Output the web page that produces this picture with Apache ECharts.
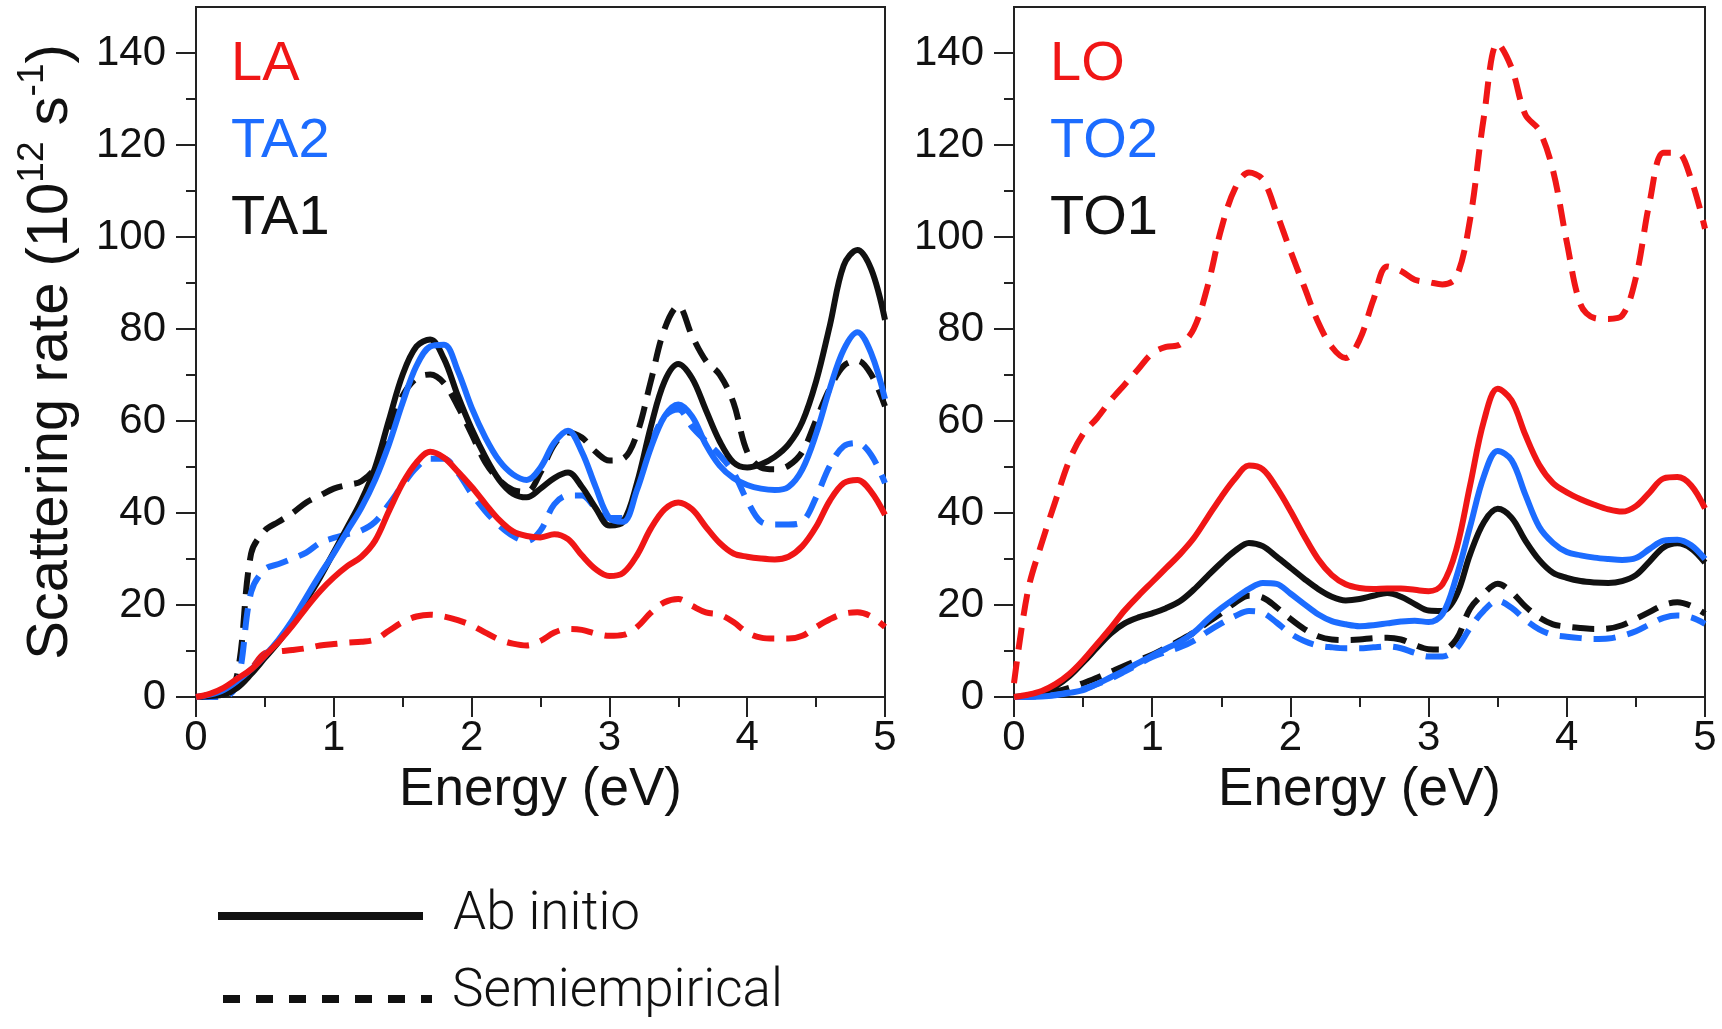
<!DOCTYPE html>
<html>
<head>
<meta charset="utf-8">
<title>Scattering rate</title>
<script src="https://cdn.jsdelivr.net/npm/echarts@6/dist/echarts.min.js"></script>
<style>
    html, body { margin: 0; padding: 0; background: #fff; }
    #echart_main { width: 1722px; height: 1029px; }
</style>
</head>
<body>
<div id="echart_main"></div>
<script>
// energy grid (eV)
var energy = [0, 0.1, 0.2, 0.3, 0.4, 0.5, 0.6, 0.7, 0.8, 0.9,
    1.0, 1.1, 1.2, 1.3, 1.4, 1.5, 1.6, 1.7, 1.8, 1.9,
    2.0, 2.1, 2.2, 2.3, 2.4, 2.5, 2.6, 2.7, 2.8, 2.9,
    3.0, 3.1, 3.2, 3.3, 3.4, 3.5, 3.6, 3.7, 3.8, 3.9,
    4.0, 4.1, 4.2, 4.3, 4.4, 4.5, 4.6, 4.7, 4.8, 4.9, 5.0];

var xTicks = [0, 1, 2, 3, 4, 5];
var yTicks = [0, 20, 40, 60, 80, 100, 120, 140];
var yMinor = [10, 30, 50, 70, 90, 110, 130];

// acoustic branches, ab initio (solid)
var laAb = [0, 0.7, 2, 4, 6, 9, 12, 15.5, 19.4, 23,
    26, 28.5, 30.5, 34, 40.4, 46.5, 51, 53.3, 52, 49,
    45.7, 42, 38.5, 36, 35, 34.7, 35.4, 34.3, 30.8, 27.8,
    26.3, 27, 30.8, 36.6, 40.8, 42.3, 40.8, 37, 33.5, 31.2,
    30.5, 30.1, 29.9, 30.5, 32.8, 37, 42.7, 46.5, 47.2, 44.6, 39.6];
var ta2Ab = [0, 0.5, 1.5, 3.5, 6, 9, 12.5, 16.7, 21.7, 26.6,
    31.2, 36.2, 41.1, 47.2, 54.9, 64, 72, 76.2, 76.6, 70.9,
    62.9, 56.4, 51.4, 48.4, 47.2, 49.9, 55.3, 57.9, 53.3, 45.7,
    38.9, 38.1, 45, 54.1, 61, 63.6, 61, 54.9, 50.3, 47.6,
    46.1, 45.3, 45, 45.7, 49.5, 57.2, 67.1, 75.5, 79.3, 74.7, 64.8];
var ta1Ab = [0, 0.2, 0.5, 2, 5, 8.5, 12, 16, 21, 26,
    31.5, 37, 42.7, 49.9, 60.2, 70.1, 76.2, 77.7, 73.5, 65.5,
    58.3, 52.2, 47.2, 44.2, 43.4, 45.3, 47.6, 48.8, 45.7, 41.1,
    37.3, 38.1, 46.5, 58.7, 68.6, 72.4, 69.3, 62.4, 55.6, 51,
    49.9, 50.6, 52.2, 54.9, 59.8, 68.6, 80.8, 93.8, 97.2, 93, 82];

// acoustic branches, semiempirical (dashed)
var laSe = [0, 0.5, 1.5, 3, 6, 9.5, 9.9, 10.2, 10.6, 11.2,
    11.5, 11.8, 12, 12.5, 14.4, 16.3, 17.5, 17.9, 17.5, 16.7,
    15.6, 14, 12.5, 11.6, 11.2, 12.2, 14, 14.8, 14.6, 13.8,
    13.3, 13.5, 15.2, 18.3, 20.6, 21.3, 19.8, 18.4, 17.9, 16.3,
    14, 12.9, 12.7, 12.7, 13.3, 15.2, 16.9, 18.1, 18.4, 17.5, 15.2];
var ta2Se = [0, 0, 0, 3, 22.8, 27.8, 28.9, 30.1, 31.4, 33.5,
    34.6, 35.4, 36.2, 38.1, 41.9, 46.1, 49.9, 51.8, 51.8, 48.8,
    44.2, 40.4, 37.3, 35, 33.9, 36.2, 41.9, 43.8, 43.8, 41.1,
    38.9, 38.9, 45.7, 54.9, 61, 62.5, 58.7, 55.6, 52.6, 48.8,
    42.7, 38.1, 37.5, 37.5, 38.1, 43.4, 50.3, 54.5, 55.2, 52.6, 46.5];
var ta1Se = [0, 0, 0, 5, 31.2, 36.2, 38.1, 40, 42.3, 43.8,
    45.3, 46.1, 46.9, 49.9, 57.9, 65.5, 69.3, 70.1, 68.2, 63.2,
    57.2, 51, 47.2, 45, 44.6, 48.8, 54.9, 57.5, 56.4, 53.3,
    51.4, 51.8, 57.2, 68.6, 80, 85, 78.5, 73.1, 70.1, 64,
    53.3, 49.9, 49.5, 50.3, 53.3, 60.2, 67.1, 72, 73.1, 70.1, 63.2];

// optical branches, ab initio (solid)
var loAb = [0, 0.5, 1.3, 2.8, 5, 8, 11.5, 15, 18.8, 22,
    25, 28, 31, 34.5, 39, 43.5, 47.5, 50.3, 49.5, 45.5,
    40.5, 35, 30, 26.5, 24.5, 23.7, 23.5, 23.6, 23.6, 23.3,
    23, 24.5, 32, 46, 60, 67, 64.5, 57, 50.5, 46.5,
    44.5, 43, 41.8, 40.8, 40.3, 41.5, 44.5, 47.5, 47.8, 46, 41];
var to2Ab = [0, 0, 0.1, 0.4, 0.9, 1.5, 2.8, 4.3, 5.8, 7.4,
    9, 10.5, 12, 14, 16.8, 19.3, 21.5, 23.5, 24.8, 24.6,
    22.5, 20.2, 18, 16.5, 15.8, 15.4, 15.6, 16, 16.4, 16.6,
    16.3, 18, 26, 37, 48, 53.5, 51.5, 44, 37, 33.5,
    31.5, 30.8, 30.3, 30, 29.8, 30.2, 32.2, 34, 34.2, 33, 30];
var to1Ab = [0, 0.3, 0.9, 2.3, 4.5, 7.5, 10.7, 13.8, 16, 17.3,
    18.2, 19.3, 20.8, 23.3, 26.3, 29.2, 31.8, 33.5, 32.8, 30.5,
    28.1, 25.7, 23.5, 21.8, 21, 21.3, 22, 22.6, 21.8, 20.2,
    18.8, 18.7, 22, 31, 38, 40.9, 39, 34, 29.8, 27,
    25.9, 25.2, 24.9, 24.8, 25.2, 26.5, 29.5, 32.5, 33.4, 32.3, 29.2];

// optical branches, semiempirical (dashed)
var loSe = [3, 23, 33.4, 42.6, 51.4, 57.2, 60.6, 64.5, 67.9, 71.3,
    74.7, 76.1, 76.6, 80, 89.2, 101.8, 110.6, 114, 112.5, 105.2,
    97, 89.2, 81.5, 76.1, 73.7, 77.6, 86.3, 93.6, 92.6, 90.7,
    90.2, 89.7, 91.2, 103.8, 126.1, 142.1, 136.8, 126.6, 123.2, 114.5,
    98.9, 85.3, 82.4, 82.2, 82.9, 91.2, 107.7, 118.3, 118.3, 112.5, 101.8];
var to2Se = [0, 0, 0.2, 0.5, 1, 1.7, 2.8, 4, 5.5, 7.1,
    8.7, 9.8, 10.8, 12.2, 14.2, 16, 17.6, 18.7, 18.3, 16.2,
    13.8, 12.2, 11.2, 10.8, 10.6, 10.6, 10.8, 11, 10.6, 9.6,
    8.8, 8.8, 10.5, 15, 18.8, 20.9, 19.4, 16.8, 14.7, 13.5,
    13.1, 12.8, 12.6, 12.7, 13.3, 14.3, 15.8, 17.2, 17.7, 17.3, 15.9];
var to1Se = [0, 0.2, 0.6, 1.2, 2, 3, 4.2, 5.5, 6.8, 8,
    9.2, 10.7, 12.3, 14, 16.2, 18.2, 20.5, 22, 21.6, 19.5,
    17, 14.8, 13.2, 12.5, 12.4, 12.5, 12.8, 12.9, 12.5, 11.3,
    10.4, 10.3, 12.5, 19.2, 22.5, 24.6, 22.8, 19.7, 17.3, 15.8,
    15.3, 15, 14.8, 14.9, 15.6, 17, 18.5, 20, 20.6, 19.8, 18.1];

var RED = '#f01616';
var BLUE = '#1c6cff';
var BLACK = '#111111';
var AXIS = '#222222';
var FONT = '"Liberation Sans", Arial, Helvetica, sans-serif';

function pairs(vals) {
    return energy.map(function (e, i) { return [e, vals[i]]; });
}

function line(name, vals, color, dashed, gridIdx) {
    return {
        name: name,
        type: 'line',
        xAxisIndex: gridIdx,
        yAxisIndex: gridIdx * 2,
        data: pairs(vals),
        smooth: 0.35,
        showSymbol: false,
        symbol: 'none',
        silent: true,
        lineStyle: {
            color: color,
            width: 6,
            type: dashed ? [22, 12] : 'solid',
            cap: 'butt',
            join: 'round'
        }
    };
}

function xAxisFor(gridIdx) {
    return {
        type: 'value',
        gridIndex: gridIdx,
        min: 0,
        max: 5,
        interval: 1,
        name: 'Energy (eV)',
        nameLocation: 'middle',
        nameGap: 66,
        nameTextStyle: { fontFamily: FONT, fontSize: 53, color: BLACK },
        axisLine: { show: true, onZero: false, lineStyle: { color: AXIS, width: 2 } },
        axisTick: { show: true, length: 20, lineStyle: { color: AXIS, width: 2 } },
        minorTick: { show: true, splitNumber: 2, length: 10, lineStyle: { color: AXIS, width: 2 } },
        axisLabel: {
            margin: 20, fontFamily: FONT, fontSize: 42, color: BLACK,
            customValues: xTicks
        },
        splitLine: { show: false }
    };
}

function yAxesFor(gridIdx, withName) {
    var main = {
        type: 'value',
        gridIndex: gridIdx,
        position: 'left',
        min: 0,
        max: 150,
        axisLine: { show: true, onZero: false, lineStyle: { color: AXIS, width: 2 } },
        axisTick: { show: true, length: 20, customValues: yTicks, lineStyle: { color: AXIS, width: 2 } },
        axisLabel: {
            margin: 30, fontFamily: FONT, fontSize: 42, color: BLACK,
            customValues: yTicks
        },
        splitLine: { show: false }
    };
    if (withName) {
        main.name = 'Scattering rate (10{sup|12} s{sup|-1})';
        main.nameLocation = 'middle';
        main.nameRotate = 90;
        main.nameGap = 108;
        main.nameTextStyle = {
            fontFamily: FONT, fontSize: 58, color: BLACK, lineHeight: 74,
            rich: {
                sup: { fontFamily: FONT, fontSize: 37, color: BLACK, lineHeight: 38, verticalAlign: 'top' }
            }
        };
    }
    // second axis only carries the short minor ticks
    var minor = {
        type: 'value',
        gridIndex: gridIdx,
        position: 'left',
        min: 0,
        max: 150,
        axisLine: { show: false },
        axisTick: { show: true, length: 10, customValues: yMinor, lineStyle: { color: AXIS, width: 2 } },
        axisLabel: { show: false },
        splitLine: { show: false }
    };
    return [main, minor];
}

function tag(text, x, y, color) {
    return {
        type: 'text',
        x: x,
        y: y,
        style: {
            text: text,
            fill: color,
            font: '56px ' + FONT,
            verticalAlign: 'middle'
        },
        silent: true
    };
}

var lightFont = '300 53px Roboto, "Helvetica Neue", "Liberation Sans", sans-serif';

var myChart = echarts.init(document.getElementById('echart_main'), null, { renderer: 'canvas' });
var option = {
    animation: false,
    backgroundColor: '#ffffff',
    grid: [
        { left: 196, top: 7, width: 689, height: 690, show: true, borderColor: AXIS, borderWidth: 2, containLabel: false },
        { left: 1014, top: 7, width: 691, height: 690, show: true, borderColor: AXIS, borderWidth: 2, containLabel: false }
    ],
    xAxis: [xAxisFor(0), xAxisFor(1)],
    yAxis: yAxesFor(0, true).concat(yAxesFor(1, false)),
    series: [
        line('TA1 semiempirical', ta1Se, BLACK, true, 0),
        line('TA2 semiempirical', ta2Se, BLUE, true, 0),
        line('LA semiempirical', laSe, RED, true, 0),
        line('TA1 ab initio', ta1Ab, BLACK, false, 0),
        line('TA2 ab initio', ta2Ab, BLUE, false, 0),
        line('LA ab initio', laAb, RED, false, 0),

        line('LO semiempirical', loSe, RED, true, 1),
        line('TO1 semiempirical', to1Se, BLACK, true, 1),
        line('TO2 semiempirical', to2Se, BLUE, true, 1),
        line('TO1 ab initio', to1Ab, BLACK, false, 1),
        line('TO2 ab initio', to2Ab, BLUE, false, 1),
        line('LO ab initio', loAb, RED, false, 1)
    ],
    graphic: [
        tag('LA', 231, 65, RED),
        tag('TA2', 231, 142, BLUE),
        tag('TA1', 231, 219, BLACK),
        tag('LO', 1050, 65, RED),
        tag('TO2', 1050, 142, BLUE),
        tag('TO1', 1050, 219, BLACK),
        // key below the panels
        {
            type: 'line',
            shape: { x1: 218, y1: 916, x2: 423, y2: 916 },
            style: { stroke: BLACK, lineWidth: 8 },
            silent: true
        },
        {
            type: 'line',
            shape: { x1: 223, y1: 999, x2: 432, y2: 999 },
            style: { stroke: BLACK, lineWidth: 8, lineDash: [17, 16] },
            silent: true
        },
        {
            type: 'text',
            x: 453, y: 916,
            style: { text: 'Ab initio', fill: BLACK, font: lightFont, verticalAlign: 'middle' },
            silent: true
        },
        {
            type: 'text',
            x: 452, y: 993,
            style: { text: 'Semiempirical', fill: BLACK, font: lightFont, verticalAlign: 'middle' },
            silent: true
        }
    ]
};
myChart.setOption(option);
</script>
</body>
</html>
